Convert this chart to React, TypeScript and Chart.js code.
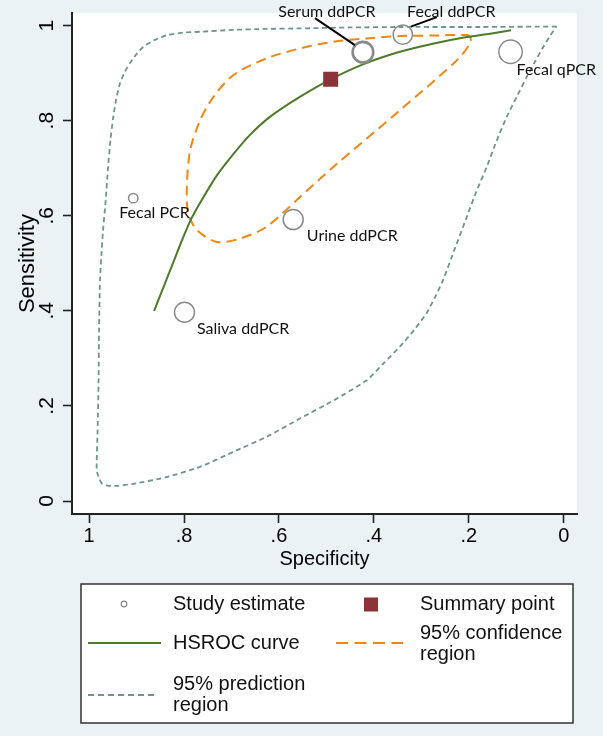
import { useEffect, useRef } from 'react';
import { Chart, registerables } from 'chart.js';

Chart.register(...registerables);

// ---------------- data ----------------
const studyNames = ['Fecal PCR', 'Serum ddPCR', 'Fecal ddPCR', 'Fecal qPCR', 'Urine ddPCR', 'Saliva ddPCR'];
const studySpecificity = [0.907, 0.423, 0.339, 0.112, 0.570, 0.799];
const studySensitivity = [0.637, 0.944, 0.981, 0.945, 0.592, 0.397];

const summarySpecificity = [0.491];
const summarySensitivity = [0.887];

const hsrocSpecificity = [0.863, 0.844, 0.823, 0.804, 0.783, 0.758, 0.730, 0.699, 0.661, 0.619, 0.556, 0.491, 0.419, 0.345, 0.271, 0.204, 0.155, 0.111];
const hsrocSensitivity = [0.400, 0.448, 0.501, 0.549, 0.597, 0.641, 0.686, 0.726, 0.770, 0.808, 0.850, 0.887, 0.920, 0.945, 0.963, 0.976, 0.983, 0.990];

const confidenceSpecificity = [0.196, 0.204, 0.275, 0.345, 0.415, 0.485, 0.555, 0.626, 0.696, 0.738, 0.766, 0.787, 0.794, 0.791, 0.773, 0.731, 0.682, 0.626, 0.555, 0.485, 0.345, 0.225, 0.197, 0.196];
const confidenceSensitivity = [0.976, 0.980, 0.979, 0.978, 0.973, 0.966, 0.952, 0.931, 0.896, 0.850, 0.801, 0.738, 0.661, 0.605, 0.570, 0.545, 0.552, 0.577, 0.640, 0.703, 0.822, 0.927, 0.963, 0.976];

const predictionSpecificity = [
  0.015, 0.176, 0.345, 0.450, 0.555, 0.627, 0.697, 0.766, 0.802, 0.836, 0.861, 0.886, 0.901, 0.914, 0.925, 0.935,
  0.943, 0.949, 0.955, 0.960, 0.965, 0.971, 0.974, 0.977, 0.979, 0.980, 0.982, 0.984,
  0.979, 0.973, 0.959, 0.939, 0.907, 0.838, 0.766, 0.697, 0.626, 0.555, 0.484, 0.415, 0.379, 0.345, 0.315, 0.289,
  0.271, 0.254, 0.229, 0.204, 0.184, 0.162, 0.142, 0.120, 0.098, 0.078, 0.060, 0.043, 0.029, 0.015,
];
const predictionSensitivity = [
  0.998, 0.997, 0.997, 0.996, 0.994, 0.993, 0.991, 0.987, 0.985, 0.980, 0.970, 0.955, 0.939, 0.921, 0.902, 0.878,
  0.845, 0.808, 0.759, 0.702, 0.633, 0.564, 0.517, 0.465, 0.360, 0.254, 0.149, 0.065,
  0.048, 0.037, 0.032, 0.032, 0.036, 0.050, 0.072, 0.103, 0.135, 0.174, 0.212, 0.254, 0.290, 0.325, 0.360, 0.395,
  0.429, 0.465, 0.532, 0.598, 0.651, 0.703, 0.756, 0.808, 0.852, 0.892, 0.925, 0.955, 0.978, 0.998,
];

const xTickValues = [0, 0.2, 0.4, 0.6, 0.8, 1];
const xTickLabels = ['0', '.2', '.4', '.6', '.8', '1'];
const yTickValues = [0, 0.2, 0.4, 0.6, 0.8, 1];
const yTickLabels = ['0', '.2', '.4', '.6', '.8', '1'];

const xTitle = 'Specificity';
const yTitle = 'Sensitivity';

const legendStudy = ['Study estimate'];
const legendSummary = ['Summary point'];
const legendCurve = ['HSROC curve'];
const legendConfidence = ['95% confidence', 'region'];
const legendPrediction = ['95% prediction', 'region'];

// ---------------- styles ----------------
const BG = '#EAF2F3';
const GREEN = '#4E7A2B';
const ORANGE = '#EF8714';
const PRED = '#6C968D';
const SUMMARY = '#8C3339';
const CIRCLE = '#8A8A8A';
const AXIS = '#222222';
const SANS = "'Liberation Sans', Arial, Helvetica, sans-serif";
const LABEL_FONT = "16px Lato, 'Open Sans', sans-serif";

const studyRadius = [4.7, 10.3, 9.7, 11.7, 10, 10];
const studyBorderWidth = [1.5, 2.6, 1.5, 1.5, 1.5, 1.5];
// label text anchor (left, middle) offsets in px relative to the marker
const labelOffsets: [number, number][] = [
  [-14, 14.7],
  [-84.7, -40.3],
  [4.3, -22.7],
  [6, 18.3],
  [13.7, 16.2],
  [12.4, 16.7],
];
// pointer line offsets relative to marker [x1, y1, x2, y2]
const pointerLines: (number[] | null)[] = [
  null,
  [-48, -34, -8, -7],
  [34, -17.5, 8, -8],
  null,
  null,
  null,
];

const toXY = (xs: number[], ys: number[]) => xs.map((v, i) => ({ x: v, y: ys[i] }));

const labelFor = (values: number[], labels: string[]) => (value: number) => {
  const i = values.findIndex((v) => Math.abs(v - value) < 1e-9);
  return i >= 0 ? labels[i] : '';
};

const backgroundPlugin = {
  id: 'bg',
  beforeDraw(chart: any) {
    const { ctx, chartArea, width, height } = chart;
    ctx.save();
    ctx.fillStyle = BG;
    ctx.fillRect(0, 0, width, height);
    ctx.fillStyle = '#ffffff';
    ctx.fillRect(chartArea.left, chartArea.top, chartArea.right - chartArea.left, chartArea.bottom - chartArea.top);
    ctx.restore();
  },
};

const labelsPlugin = {
  id: 'studyLabels',
  afterDatasetsDraw(chart: any) {
    const { ctx } = chart;
    const xs = chart.scales.x;
    const ys = chart.scales.y;
    ctx.save();
    ctx.font = LABEL_FONT;
    ctx.fillStyle = '#111111';
    ctx.textAlign = 'left';
    ctx.textBaseline = 'middle';
    studyNames.forEach((name, i) => {
      const px = xs.getPixelForValue(studySpecificity[i]);
      const py = ys.getPixelForValue(studySensitivity[i]);
      const [dx, dy] = labelOffsets[i];
      ctx.fillText(name, px + dx, py + dy);
      const pl = pointerLines[i];
      if (pl) {
        ctx.beginPath();
        ctx.moveTo(px + pl[0], py + pl[1]);
        ctx.lineTo(px + pl[2], py + pl[3]);
        ctx.lineWidth = 2;
        ctx.strokeStyle = '#000000';
        ctx.stroke();
      }
    });
    ctx.restore();
  },
};

const legendPlugin = {
  id: 'stataLegend',
  afterDraw(chart: any) {
    const { ctx } = chart;
    const bx = 81, by = 584, bw = 492, bh = 139;
    ctx.save();
    ctx.fillStyle = '#ffffff';
    ctx.fillRect(bx, by, bw, bh);
    ctx.strokeStyle = '#333333';
    ctx.lineWidth = 1.5;
    ctx.strokeRect(bx, by, bw, bh);

    ctx.font = `20px ${SANS}`;
    ctx.fillStyle = '#111111';
    ctx.textAlign = 'left';
    ctx.textBaseline = 'middle';
    const text = (lines: string[], x: number, y: number, lh = 21) =>
      lines.forEach((l, i) => ctx.fillText(l, x, y + i * lh));

    // row 1
    ctx.beginPath();
    ctx.arc(124, 604, 2.8, 0, Math.PI * 2);
    ctx.strokeStyle = CIRCLE;
    ctx.lineWidth = 1.2;
    ctx.stroke();
    text(legendStudy, 173, 604);
    ctx.fillStyle = SUMMARY;
    ctx.fillRect(364, 597.5, 14, 14);
    ctx.fillStyle = '#111111';
    text(legendSummary, 420, 604);

    // row 2
    ctx.beginPath();
    ctx.moveTo(88, 643);
    ctx.lineTo(161, 643);
    ctx.strokeStyle = GREEN;
    ctx.lineWidth = 2;
    ctx.setLineDash([]);
    ctx.stroke();
    text(legendCurve, 173, 643);
    ctx.beginPath();
    ctx.moveTo(336, 643);
    ctx.lineTo(403, 643);
    ctx.strokeStyle = ORANGE;
    ctx.lineWidth = 2;
    ctx.setLineDash([12, 6.5]);
    ctx.stroke();
    ctx.setLineDash([]);
    text(legendConfidence, 420, 633);

    // row 3
    ctx.beginPath();
    ctx.moveTo(88, 695);
    ctx.lineTo(158, 695);
    ctx.strokeStyle = PRED;
    ctx.lineWidth = 2;
    ctx.setLineDash([6, 4]);
    ctx.stroke();
    ctx.setLineDash([]);
    text(legendPrediction, 173, 684);
    ctx.restore();
  },
};

export default function App() {
  const ref = useRef<HTMLCanvasElement>(null);
  useEffect(() => {
    document.body.style.margin = '0';
    document.body.style.background = BG;
    Chart.defaults.font.family = SANS;
    Chart.defaults.color = '#000000';
    const chart = new Chart(ref.current as HTMLCanvasElement, {
      type: 'scatter',
      data: {
        datasets: [
          {
            label: 'Study estimate',
            data: toXY(studySpecificity, studySensitivity),
            pointRadius: studyRadius,
            pointBorderWidth: studyBorderWidth,
            pointBorderColor: CIRCLE,
            pointBackgroundColor: 'rgba(0,0,0,0)',
            showLine: false,
          },
          {
            label: 'Summary point',
            data: toXY(summarySpecificity, summarySensitivity),
            pointStyle: 'rect',
            pointRadius: 10.6,
            pointBorderWidth: 0,
            pointBackgroundColor: SUMMARY,
            pointBorderColor: SUMMARY,
            showLine: false,
          },
          {
            label: 'HSROC curve',
            data: toXY(hsrocSpecificity, hsrocSensitivity),
            showLine: true,
            pointRadius: 0,
            borderColor: GREEN,
            borderWidth: 2,
            tension: 0.3,
            fill: false,
          },
          {
            label: '95% confidence region',
            data: toXY(confidenceSpecificity, confidenceSensitivity),
            showLine: true,
            pointRadius: 0,
            borderColor: ORANGE,
            borderWidth: 2,
            borderDash: [10, 6],
            tension: 0.3,
            fill: false,
          },
          {
            label: '95% prediction region',
            data: toXY(predictionSpecificity, predictionSensitivity),
            showLine: true,
            pointRadius: 0,
            borderColor: PRED,
            borderWidth: 1.8,
            borderDash: [5, 3.5],
            tension: 0.2,
            fill: false,
          },
        ],
      },
      options: {
        animation: false,
        responsive: false,
        events: [],
        layout: { padding: { left: 0, top: 13, right: 26, bottom: 161 } },
        plugins: { legend: { display: false }, tooltip: { enabled: false } },
        scales: {
          x: {
            type: 'linear',
            reverse: true,
            min: -0.028,
            max: 1.036,
            afterBuildTicks: (s: any) => {
              s.ticks = xTickValues.map((v) => ({ value: v }));
            },
            afterFit: (s: any) => {
              s.height = 61;
              s.paddingLeft = 0;
              s.paddingRight = 0;
              s.paddingTop = 0;
              s.paddingBottom = 0;
            },
            ticks: {
              autoSkip: false,
              maxRotation: 0,
              minRotation: 0,
              padding: 1.5,
              font: { size: 20, family: SANS },
              color: '#000',
              callback: labelFor(xTickValues, xTickLabels) as any,
            },
            grid: {
              display: true,
              drawOnChartArea: false,
              drawTicks: true,
              tickLength: 9,
              tickWidth: 1.6,
              tickColor: AXIS,
              color: AXIS,
            },
            border: { display: true, color: AXIS, width: 2 },
            title: {
              display: true,
              text: xTitle,
              font: { size: 20, family: SANS },
              color: '#000',
              padding: { top: 0, bottom: 4 },
            },
          },
          y: {
            type: 'linear',
            min: -0.0273,
            max: 1.026,
            afterBuildTicks: (s: any) => {
              s.ticks = yTickValues.map((v) => ({ value: v }));
            },
            afterFit: (s: any) => {
              s.width = 72;
              s.paddingLeft = 0;
              s.paddingRight = 0;
              s.paddingTop = 0;
              s.paddingBottom = 0;
            },
            ticks: {
              autoSkip: false,
              minRotation: 90,
              maxRotation: 90,
              crossAlign: 'center',
              padding: 7,
              font: { size: 21, family: SANS },
              color: '#000',
              callback: labelFor(yTickValues, yTickLabels) as any,
            },
            grid: {
              display: true,
              drawOnChartArea: false,
              drawTicks: true,
              tickLength: 9,
              tickWidth: 1.6,
              tickColor: AXIS,
              color: AXIS,
            },
            border: { display: true, color: AXIS, width: 2 },
            title: {
              display: true,
              text: yTitle,
              font: { size: 22, family: SANS },
              color: '#000',
              padding: { top: 15, bottom: 0 },
            },
          },
        },
      },
      plugins: [backgroundPlugin, labelsPlugin, legendPlugin],
    } as any);
    return () => chart.destroy();
  }, []);
  return <canvas ref={ref} width={603} height={736} style={{ display: 'block', width: 603, height: 736 }} />;
}
